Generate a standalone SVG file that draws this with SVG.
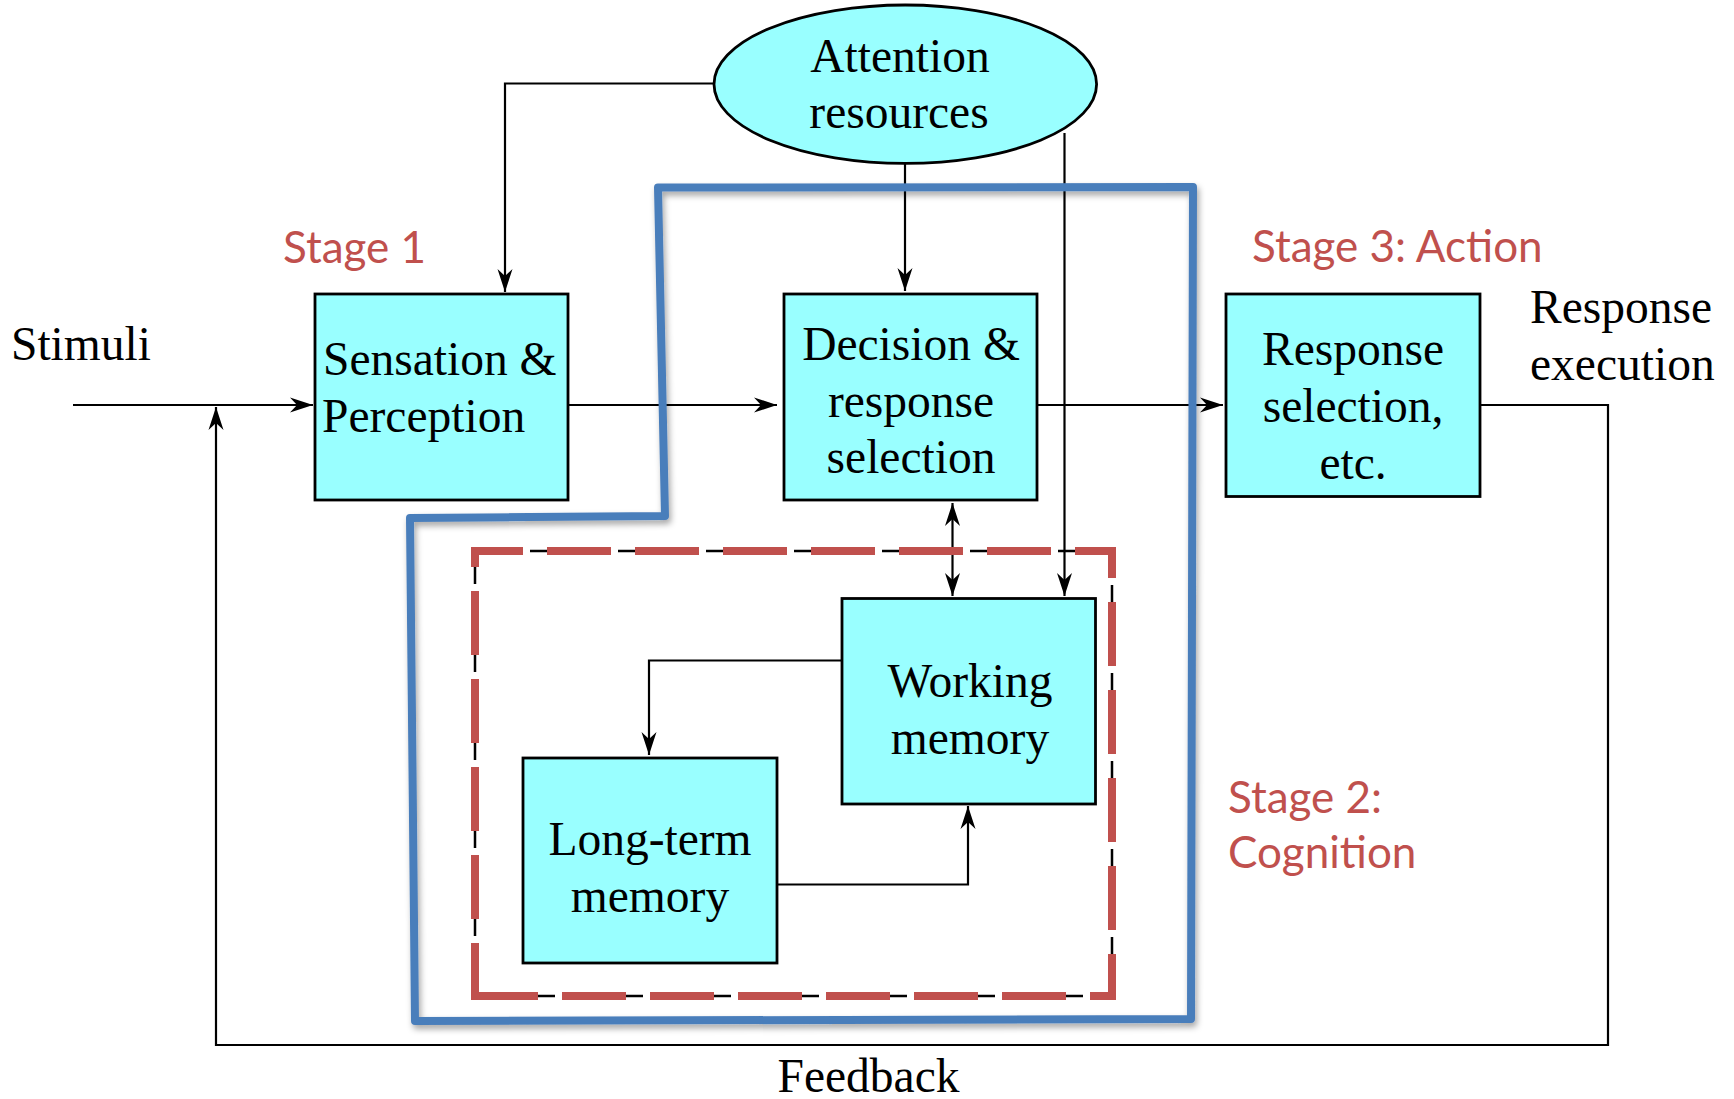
<svg xmlns="http://www.w3.org/2000/svg" width="1734" height="1099" viewBox="0 0 1734 1099">
<defs>
<style>
.box{fill:#99ffff;stroke:#000;stroke-width:2.8}
.t{font-family:"Liberation Serif","Times New Roman",serif;font-size:47.5px;fill:#000}
.c{text-anchor:middle}
.stage{font-family:Lato,"Open Sans",sans-serif;font-size:44px;fill:#c0504d}
.con{fill:none;stroke:#000;stroke-width:2.2}
</style>
<marker id="ah" markerUnits="userSpaceOnUse" markerWidth="26" markerHeight="18" viewBox="-24 -9 26 18" refX="0" refY="0" orient="auto-start-reverse" overflow="visible">
<path d="M0,0 L-23,-7.5 L-16,0 L-23,7.5 Z" fill="#000"/>
</marker>
<filter id="sh" x="-5%" y="-5%" width="110%" height="110%">
<feDropShadow dx="2" dy="4" stdDeviation="3" flood-color="#000" flood-opacity="0.35"/>
</filter>
</defs>
<rect width="1734" height="1099" fill="#fff"/>

<g id="connectors">
<path class="con" d="M73,405 H313" marker-end="url(#ah)"/>
<path class="con" d="M1480,405 H1608 V1045 H216 V407" marker-end="url(#ah)"/>
<path class="con" d="M568,405 H777" marker-end="url(#ah)"/>
<path class="con" d="M1036,405 H1223" marker-end="url(#ah)"/>
<path class="con" d="M714,83.5 H505 V292" marker-end="url(#ah)"/>
<path class="con" d="M905,163 V291" marker-end="url(#ah)"/>
<path class="con" d="M1064.5,133 V596" marker-end="url(#ah)"/>
<path class="con" d="M952.5,503 V596" marker-start="url(#ah)" marker-end="url(#ah)"/>
<path class="con" d="M842,660.5 H649 V755" marker-end="url(#ah)"/>
<path class="con" d="M777,884.5 H968 V806" marker-end="url(#ah)"/>
</g>

<g id="stage-regions">
<path d="M658,187.5 L1193,187 L1191,1019 L415,1021 L410,518 L665,516 Z" fill="none" stroke="#4a7ebb" stroke-width="8" stroke-linejoin="round" filter="url(#sh)"/>
<path d="M475,996 V551 H1112 V996 Z" fill="none" stroke="#000" stroke-width="2.5" stroke-dasharray="81 7" stroke-dashoffset="28"/>
<path d="M475,996 V551 H1112 V996 Z" fill="none" stroke="#c0504d" stroke-width="8" stroke-dasharray="64 24" stroke-dashoffset="11"/>
</g>

<g id="attention">
<ellipse cx="905.3" cy="84.2" rx="191.3" ry="79.2" class="box"/>
<text class="t c" x="900" y="71.7">Attention</text>
<text class="t c" x="899" y="128.3">resources</text>
</g>

<g id="sensation">
<rect class="box" x="315" y="294" width="253" height="206"/>
<text class="t" x="323" y="375">Sensation &amp;</text>
<text class="t" x="322" y="432">Perception</text>
</g>

<g id="decision">
<rect class="box" x="784" y="294" width="253" height="206"/>
<text class="t c" x="911" y="360">Decision &amp;</text>
<text class="t c" x="911" y="417">response</text>
<text class="t c" x="911" y="473">selection</text>
</g>

<g id="response">
<rect class="box" x="1226" y="294" width="254" height="202.5"/>
<text class="t c" x="1353" y="364.5">Response</text>
<text class="t c" x="1353" y="421.5">selection,</text>
<text class="t c" x="1353" y="479">etc.</text>
</g>

<g id="working-memory">
<rect class="box" x="842" y="598.5" width="253.5" height="205.5"/>
<text class="t c" x="970" y="697">Working</text>
<text class="t c" x="970" y="754">memory</text>
</g>

<g id="long-term-memory">
<rect class="box" x="523" y="758" width="254" height="205"/>
<text class="t c" x="650" y="855">Long-term</text>
<text class="t c" x="650" y="912">memory</text>
</g>

<g id="labels">
<text class="t" x="11" y="360">Stimuli</text>
<text class="t" x="1530" y="323">Response</text>
<text class="t" x="1530" y="380">execution</text>
<text class="t" x="777.5" y="1092">Feedback</text>
<text class="stage" x="283" y="263">Stage 1</text>
<text class="stage" x="1252" y="262">Stage 3: Action</text>
<text class="stage" x="1228" y="813">Stage 2:</text>
<text class="stage" x="1228" y="868">Cognition</text>
</g>
</svg>
